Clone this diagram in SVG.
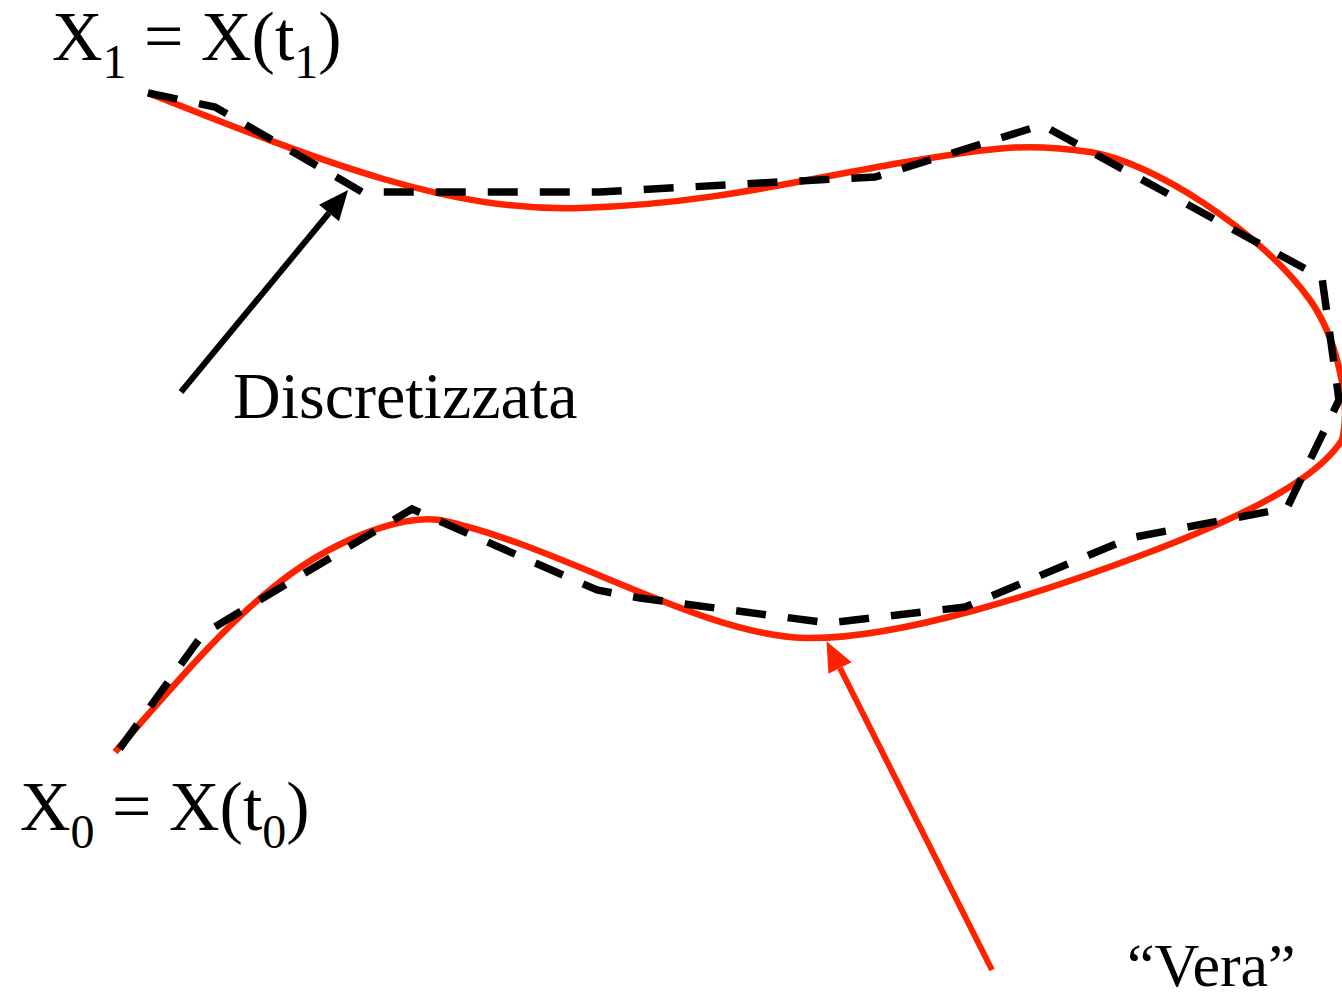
<svg xmlns="http://www.w3.org/2000/svg" width="1342" height="1002" viewBox="0 0 1342 1002">
<style>
.lbl{font-family:"Liberation Serif","Times New Roman",serif;fill:#000}
.true{fill:none;stroke:#ff2200;stroke-width:6.5}
.disc{fill:none;stroke:#000;stroke-width:7.5;stroke-dasharray:30 22;stroke-linejoin:miter}
.ptr{fill:none;stroke-width:6}
</style>
<defs>
<marker id="ahBlack" markerUnits="userSpaceOnUse" markerWidth="32" markerHeight="28" refX="0" refY="14" orient="auto" overflow="visible"><path d="M0,1 L30,14 L0,27 z" fill="#000"/></marker>
<marker id="ahRed" markerUnits="userSpaceOnUse" markerWidth="32" markerHeight="28" refX="0" refY="14" orient="auto" overflow="visible"><path d="M0,1 L30,14 L0,27 z" fill="#ff2200"/></marker>
</defs>
<rect width="1342" height="1002" fill="#fff"/>
<g id="curve-vera">
<path class="true" d="M148,93 C330,165 450,212 580,208 S800,180 900,163 S1030,143 1090,152 S1260,230 1310,300 C1335,335 1352,400 1342,440 C1320,475 1260,510 1150,552 C1050,590 900,640 805,638 C700,635 560,545 440,520 C400,515 330,540 270,590 C220,630 170,690 115,752"/>
</g>
<g id="curve-discretizzata">
<polyline class="disc" points="148,93 215,107 345,182 362,192 600,192 760,183 875,177 930,160 1042,125 1322,278 1339,400 1287,508 1130,538 965,607 828,623 640,598 597,590 412,509 203,634 115,755"/>
</g>
<g id="connectors">
<line class="ptr" stroke="#000" x1="181" y1="392" x2="329" y2="213" marker-end="url(#ahBlack)"/>
<line class="ptr" stroke="#ff2200" x1="992" y1="970" x2="840" y2="668" marker-end="url(#ahRed)"/>
</g>
<g id="label-x1">
<text class="lbl" x="52" y="60" font-size="70">X<tspan font-size="48" dy="18">1</tspan><tspan dy="-18"> = X(t</tspan><tspan font-size="48" dy="18">1</tspan><tspan dy="-18">)</tspan></text>
</g>
<g id="label-x0">
<text class="lbl" x="20" y="830" font-size="70">X<tspan font-size="48" dy="18">0</tspan><tspan dy="-18"> = X(t</tspan><tspan font-size="48" dy="18">0</tspan><tspan dy="-18">)</tspan></text>
</g>
<g id="label-discretizzata">
<text class="lbl" x="233" y="418" font-size="66">Discretizzata</text>
</g>
<g id="label-vera">
<text class="lbl" x="1127" y="986" font-size="62">“Vera”</text>
</g>
</svg>
